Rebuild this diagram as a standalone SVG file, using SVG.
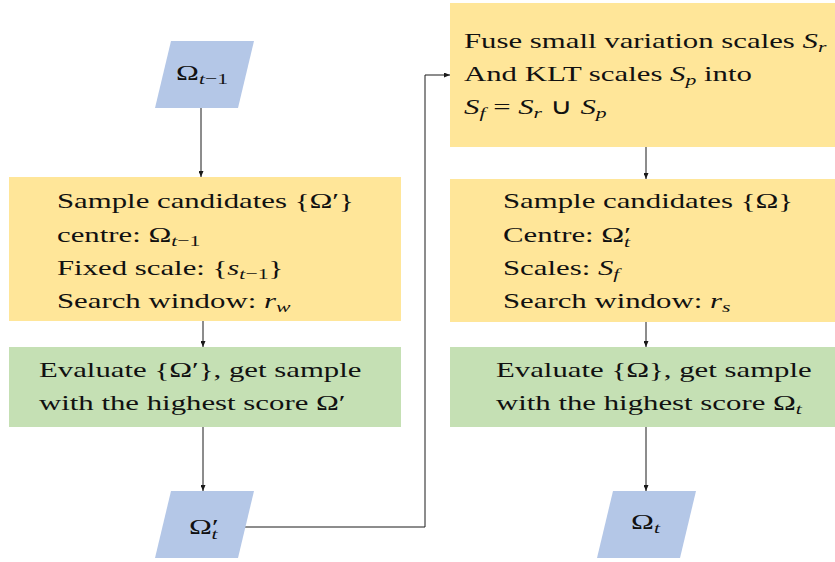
<svg xmlns="http://www.w3.org/2000/svg" width="835" height="562" viewBox="0 0 835 562">
  <style>
    .io { fill: #b4c7e7; }
    .step { fill: #ffe699; }
    .eval { fill: #c5e0b4; }
    .m { font-style: italic; }
    .sub { font-size: 15.5px; }
    .wire { fill: none; stroke: #1a1a1a; stroke-width: 1; }
  </style>
  <defs>
    <marker id="arrow" markerUnits="userSpaceOnUse" markerWidth="6" markerHeight="5" refX="6" refY="2.5" orient="auto">
      <path d="M0,0 L6,2.5 L0,5 z" fill="#1a1a1a"/>
    </marker>
  </defs>

  <!-- connectors -->
  <g id="connectors" class="wire" marker-end="url(#arrow)">
    <path d="M201,108 V177"/>
    <path d="M203,321 V347"/>
    <path d="M203,427 V491"/>
    <path d="M245,527 H425 V75 H450"/>
    <path d="M646,147 V179"/>
    <path d="M646,322 V347"/>
    <path d="M646,427 V491"/>
  </g>

  <g font-family="Liberation Serif, Times New Roman, serif" font-size="22" fill="#111">
  <!-- left column -->
  <g id="omega-prev">
    <polygon class="io" points="171,41 254,41 238,108 155,108"/>
    <text transform="translate(176 80) scale(1.4 1)">Ω<tspan class="sub m" dy="4">t</tspan><tspan class="sub">−1</tspan></text>
  </g>

  <g id="sample-fixed">
    <rect class="step" x="9" y="177" width="392" height="144"/>
    <text transform="translate(57 208) scale(1.4 1)">Sample candidates {Ω′}</text>
    <text transform="translate(57 242) scale(1.4 1)">centre: Ω<tspan class="sub m" dy="4">t</tspan><tspan class="sub">−1</tspan></text>
    <text transform="translate(57 275) scale(1.4 1)">Fixed scale: {<tspan class="m">s</tspan><tspan class="sub m" dy="4">t</tspan><tspan class="sub">−1</tspan><tspan dy="-4">}</tspan></text>
    <text transform="translate(57 308) scale(1.4 1)">Search window: <tspan class="m">r</tspan><tspan class="sub m" dy="4">w</tspan></text>
  </g>

  <g id="evaluate-fixed">
    <rect class="eval" x="9" y="347" width="392" height="80"/>
    <text transform="translate(39 377) scale(1.4 1)">Evaluate {Ω′}, get sample</text>
    <text transform="translate(39 410) scale(1.4 1)">with the highest score Ω′</text>
  </g>

  <g id="omega-prime">
    <polygon class="io" points="171,491 254,491 238,558 155,558"/>
    <text transform="translate(189 534) scale(1.4 1)">Ω′<tspan class="sub m" dx="-5" dy="5">t</tspan></text>
  </g>

  <!-- right column -->
  <g id="fuse-scales">
    <rect class="step" x="450" y="3" width="385" height="144"/>
    <text transform="translate(464 48) scale(1.4 1)">Fuse small variation scales <tspan class="m">S</tspan><tspan class="sub m" dy="4">r</tspan></text>
    <text transform="translate(464 81) scale(1.4 1)">And KLT scales <tspan class="m">S</tspan><tspan class="sub m" dy="4">p</tspan><tspan dy="-4"> into</tspan></text>
    <text transform="translate(464 114) scale(1.4 1)"><tspan class="m">S</tspan><tspan class="sub m" dy="4">f</tspan><tspan dy="-4"> = </tspan><tspan class="m">S</tspan><tspan class="sub m" dy="4">r</tspan><tspan dy="-4"> ∪ </tspan><tspan class="m">S</tspan><tspan class="sub m" dy="4">p</tspan></text>
  </g>

  <g id="sample-fused">
    <rect class="step" x="450" y="179" width="385" height="143"/>
    <text transform="translate(503 208) scale(1.4 1)">Sample candidates {Ω}</text>
    <text transform="translate(503 242) scale(1.4 1)">Centre: Ω′<tspan class="sub m" dx="-5" dy="5">t</tspan></text>
    <text transform="translate(503 275) scale(1.4 1)">Scales: <tspan class="m">S</tspan><tspan class="sub m" dy="4">f</tspan></text>
    <text transform="translate(503 308) scale(1.4 1)">Search window: <tspan class="m">r</tspan><tspan class="sub m" dy="4">s</tspan></text>
  </g>

  <g id="evaluate-fused">
    <rect class="eval" x="450" y="347" width="385" height="80"/>
    <text transform="translate(496 377) scale(1.4 1)">Evaluate {Ω}, get sample</text>
    <text transform="translate(496 410) scale(1.4 1)">with the highest score Ω<tspan class="sub m" dy="4">t</tspan></text>
  </g>

  <g id="omega-final">
    <polygon class="io" points="613,491 696,491 680,558 597,558"/>
    <text transform="translate(631 529) scale(1.4 1)">Ω<tspan class="sub m" dy="4">t</tspan></text>
  </g>
  </g>
</svg>
